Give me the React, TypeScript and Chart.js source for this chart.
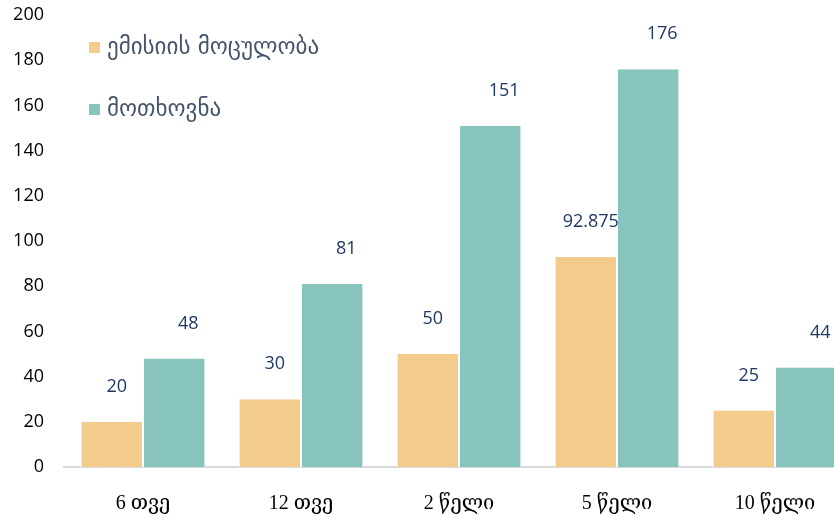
import React, { useEffect, useRef } from "react";
import { Chart, registerables } from "chart.js";

Chart.register(...registerables);

const categories = ["6 თვე", "12 თვე", "2 წელი", "5 წელი", "10 წელი"];
const seriesNames = ["ემისიის მოცულობა", "მოთხოვნა"];
const emissionValues = [20, 30, 50, 92.875, 25];
const demandValues = [48, 81, 151, 176, 44];
const yTicks = [0, 20, 40, 60, 80, 100, 120, 140, 160, 180, 200];

const COLORS = ["#F2CB8D", "#88C4BE"];
const LABEL_DX = [5, 14];

const valueLabels = {
  id: "valueLabels",
  afterDatasetsDraw(chart: any) {
    const ctx = chart.ctx;
    ctx.save();
    ctx.font = "18px 'Open Sans', sans-serif";
    ctx.fillStyle = "#1F3864";
    ctx.textAlign = "center";
    ctx.textBaseline = "middle";
    chart.data.datasets.forEach((ds: any, di: number) => {
      const meta = chart.getDatasetMeta(di);
      meta.data.forEach((bar: any, i: number) => {
        ctx.fillText(String(ds.data[i]), bar.x + LABEL_DX[di], bar.y - 35);
      });
    });
    ctx.restore();
  },
};

const customLegend = {
  id: "customLegend",
  afterDraw(chart: any) {
    const ctx = chart.ctx;
    ctx.save();
    ctx.font = "23px 'DejaVu Sans', sans-serif";
    ctx.textBaseline = "middle";
    ctx.textAlign = "left";
    chart.data.datasets.forEach((ds: any, di: number) => {
      const cy = 48 + di * 62;
      ctx.fillStyle = ds.backgroundColor;
      ctx.fillRect(89, cy - 6, 11, 11);
      ctx.fillStyle = "#44546A";
      ctx.fillText(ds.label, 107, cy);
    });
    ctx.restore();
  },
};

export default function App() {
  const ref = useRef<HTMLCanvasElement | null>(null);
  useEffect(() => {
    if (!ref.current) return;
    const chart = new Chart(ref.current, {
      type: "bar",
      data: {
        labels: categories,
        datasets: [
          {
            label: seriesNames[0],
            data: emissionValues,
            backgroundColor: COLORS[0],
            borderColor: "#ffffff",
            borderWidth: { left: 1, right: 1, top: 0, bottom: 0 },
            categoryPercentage: 0.79,
            barPercentage: 1,
          },
          {
            label: seriesNames[1],
            data: demandValues,
            backgroundColor: COLORS[1],
            borderColor: "#ffffff",
            borderWidth: { left: 1, right: 1, top: 0, bottom: 0 },
            categoryPercentage: 0.79,
            barPercentage: 1,
          },
        ],
      },
      options: {
        responsive: false,
        animation: false,
        layout: { padding: { top: 15, right: 16, left: 0, bottom: 0 } },
        plugins: {
          legend: { display: false },
          tooltip: { enabled: false },
        },
        scales: {
          x: {
            grid: { display: false, drawTicks: false },
            border: { display: true, color: "#D9D9D9", width: 2 },
            ticks: {
              color: "#000000",
              padding: 25,
              font: { family: "'Liberation Serif', 'DejaVu Serif', serif", size: 20 },
            },
            afterFit(scale: any) {
              scale.height = 51;
              scale.paddingLeft = 0;
              scale.paddingRight = 0;
            },
          },
          y: {
            min: 0,
            max: 200,
            grid: { display: false, drawTicks: false },
            border: { display: false },
            afterBuildTicks(scale: any) {
              scale.ticks = yTicks.map((v) => ({ value: v }));
            },
            ticks: {
              color: "#000000",
              padding: 20,
              font: { family: "'Open Sans', sans-serif", size: 18 },
            },
            afterFit(scale: any) {
              scale.width = 64;
              scale.paddingTop = 0;
              scale.paddingBottom = 0;
            },
          },
        },
      },
      plugins: [valueLabels, customLegend],
    });
    return () => chart.destroy();
  }, []);
  return (
    <div
      style={{
        position: "fixed",
        left: 0,
        top: 0,
        width: 834,
        height: 518,
        overflow: "hidden",
        background: "#ffffff",
      }}
    >
      <canvas ref={ref} width={870} height={518} style={{ display: "block" }} />
    </div>
  );
}
